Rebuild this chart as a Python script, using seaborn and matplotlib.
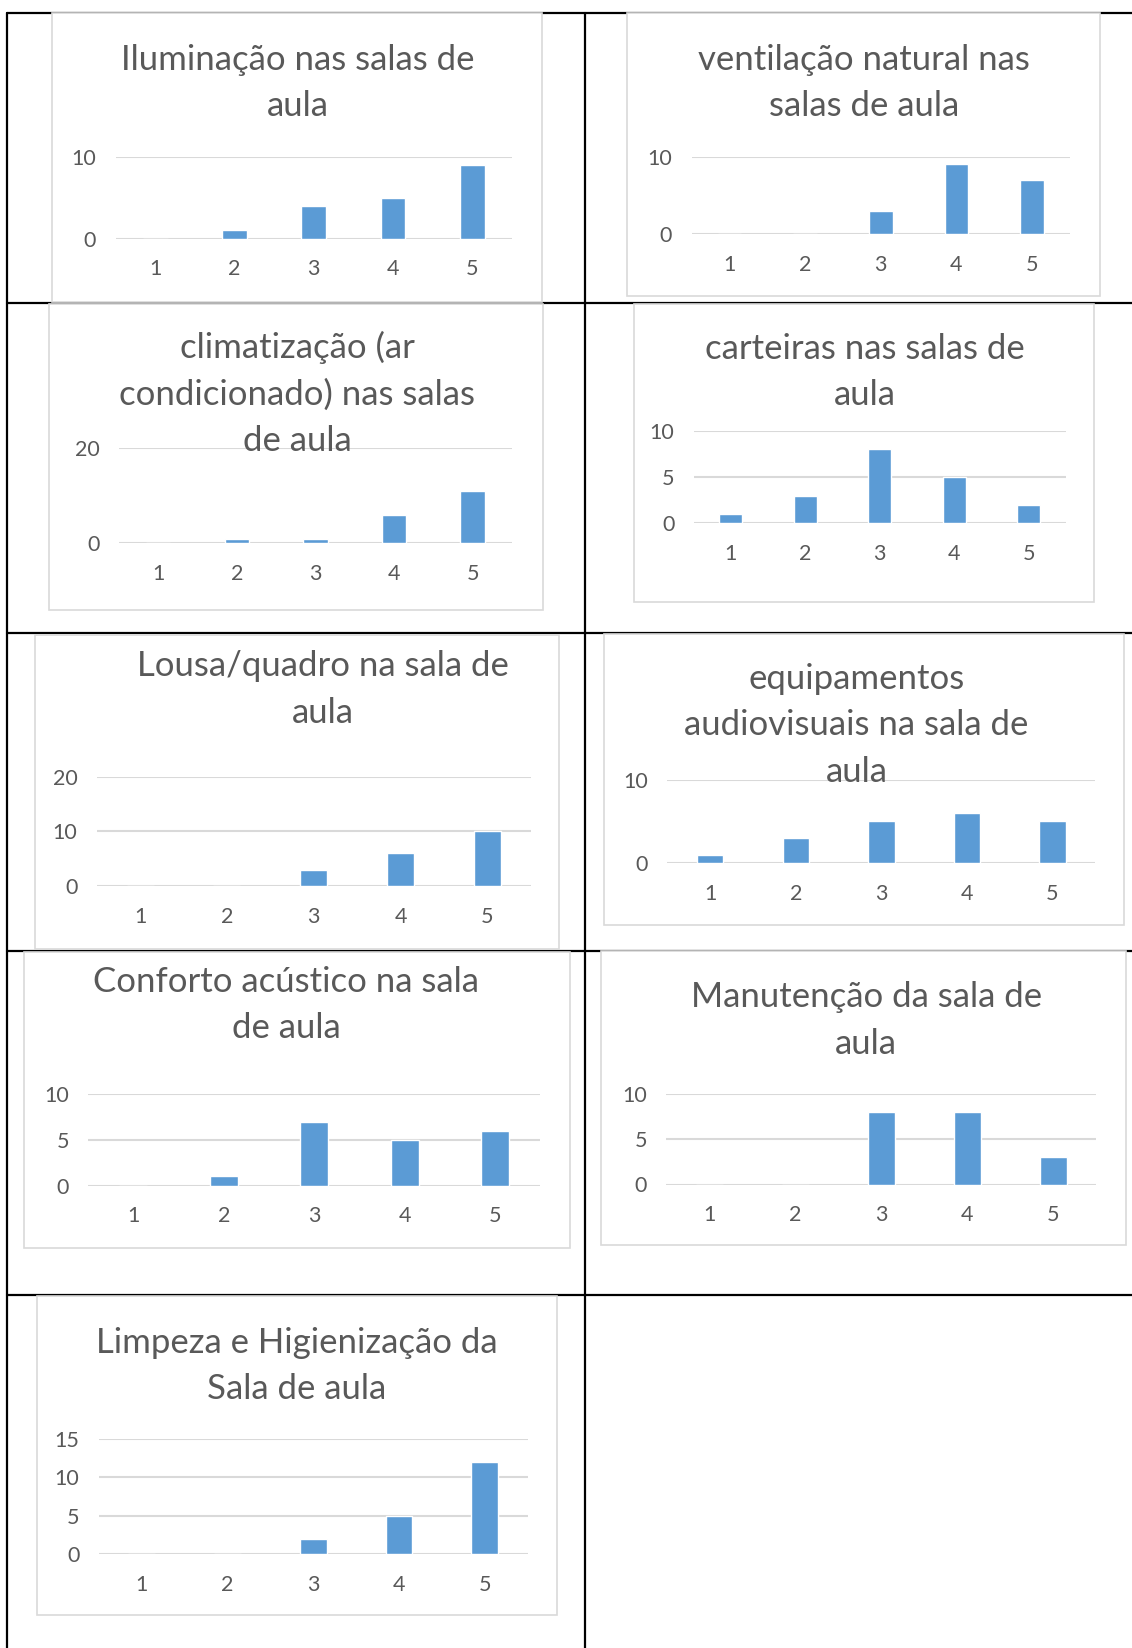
import seaborn as sns
import matplotlib.pyplot as plt
from matplotlib.patches import Rectangle
from matplotlib.lines import Line2D

# notas da escala (eixo x de todos os graficos)
notas = ['1', '2', '3', '4', '5']

titulos = [
    'Iluminação nas salas de\naula',
    'ventilação natural nas\nsalas de aula',
    'climatização (ar\ncondicionado) nas salas\nde aula',
    'carteiras nas salas de\naula',
    'Lousa/quadro na sala de\naula',
    'equipamentos\naudiovisuais na sala de\naula',
    'Conforto acústico na sala\nde aula',
    'Manutenção da sala de\naula',
    'Limpeza e Higienização da\nSala de aula',
]

iluminacao = [0, 1, 4, 5, 9]
ventilacao = [0, 0, 3, 9, 7]
climatizacao = [0, 1, 1, 6, 11]
carteiras = [1, 3, 8, 5, 2]
lousa = [0, 0, 3, 6, 10]
audiovisuais = [1, 3, 5, 6, 5]
conforto = [0, 1, 7, 5, 6]
manutencao = [0, 0, 8, 8, 3]
limpeza = [0, 0, 2, 5, 12]

valores = [iluminacao, ventilacao, climatizacao, carteiras, lousa,
           audiovisuais, conforto, manutencao, limpeza]

ticks_y = [[0, 10], [0, 10], [0, 20], [0, 5, 10], [0, 10, 20],
           [0, 10], [0, 5, 10], [0, 5, 10], [0, 5, 10, 15]]

# --- layout (pixels na escala 1077x1568) ---
W, H = 1077, 1568
# caixa do grafico: x0, y0, x1, y1
caixas = [(49, 12, 516, 287), (597, 12, 1047, 282),
          (47, 289, 517, 580), (603, 289, 1041, 573),
          (33, 604, 532, 903), (575, 603, 1069, 880),
          (23, 906, 542, 1187), (572, 905, 1071, 1185),
          (35, 1233, 530, 1537)]
# area de plotagem: x0, x1, y topo (ultimo tick), y base (0)
areas = [(110, 487, 149, 227), (658, 1018, 149, 223),
         (113, 487, 426, 517), (660, 1014, 410, 498),
         (92, 505, 739, 843), (635, 1042, 742, 821),
         (84, 514, 1041, 1128), (634, 1043, 1041, 1127),
         (94, 502, 1369, 1479)]
# centro do titulo: x, y
pos_titulos = [(283, 79), (822, 79), (283, 375), (823, 354),
               (307, 656), (815, 690), (272, 956), (824, 971),
               (282, 1300)]

azul = '#5B9BD5'
cinza_txt = '#595959'
cinza_linha = '#D9D9D9'

sns.set_theme(style='white')
plt.rcParams['font.family'] = ['Lato', 'DejaVu Sans']

fig = plt.figure(figsize=(11.32, 16.48), dpi=100)


def fx(x):
    return x / W


def fy(y):
    return 1 - y / H


# linhas da tabela
for y in [12, 288, 602, 905, 1232]:
    fig.add_artist(Line2D([fx(7), 1], [fy(y), fy(y)], color='black', lw=1.6, zorder=1))
for x in [7, 557]:
    fig.add_artist(Line2D([fx(x), fx(x)], [fy(12), 0], color='black', lw=1.6, zorder=1))

for i in range(9):
    x0, y0, x1, y1 = caixas[i]
    fig.add_artist(Rectangle((fx(x0), fy(y1)), fx(x1) - fx(x0), fy(y0) - fy(y1),
                             facecolor='white', edgecolor=cinza_linha, lw=1.2, zorder=2))

    gx0, gx1, gtop, gbase = areas[i]
    ax = fig.add_axes([fx(gx0), fy(gbase), fx(gx1) - fx(gx0), fy(gtop) - fy(gbase)])
    ax.set_zorder(3)
    ax.patch.set_alpha(0)

    sns.barplot(x=notas, y=valores[i], ax=ax, color=azul, saturation=1, width=0.31, zorder=3)

    ax.set_xlim(-0.5, 4.5)
    ax.set_ylim(0, ticks_y[i][-1])
    ax.set_yticks(ticks_y[i])
    for t in ticks_y[i]:
        ax.axhline(t, color=cinza_linha, lw=1.5, zorder=1)
    for s in ax.spines.values():
        s.set_visible(False)
    ax.tick_params(axis='x', length=0, pad=15, labelsize=15.5, labelcolor=cinza_txt)
    ax.tick_params(axis='y', length=0, pad=14, labelsize=15.5, labelcolor=cinza_txt)
    ax.set_xlabel('')
    ax.set_ylabel('')

    tx, ty = pos_titulos[i]
    fig.text(fx(tx), fy(ty), titulos[i], ha='center', va='center', fontsize=25,
             color=cinza_txt, linespacing=1.55, zorder=4)

fig.savefig('out.png', dpi=100)
